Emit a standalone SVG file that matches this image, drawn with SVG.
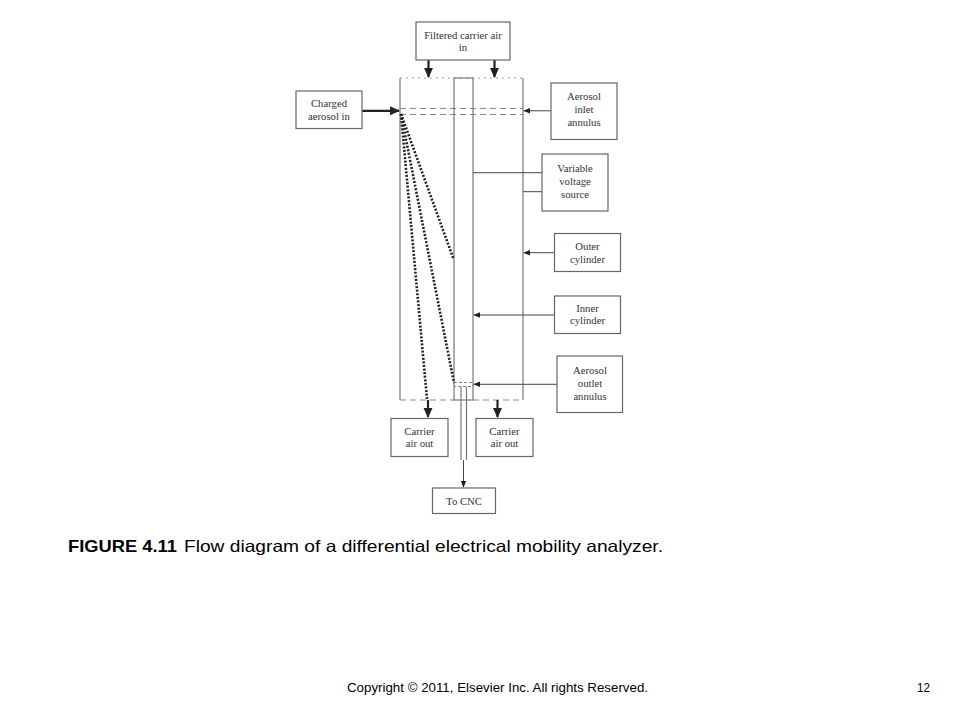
<svg xmlns="http://www.w3.org/2000/svg" width="960" height="720" viewBox="0 0 960 720">
<defs>
<style>
.box{fill:#fff;stroke:#666;stroke-width:1.2}
.lbl{font-family:"Liberation Serif",serif;font-size:10.7px;fill:#333;text-anchor:middle}
.ln{stroke:#777;stroke-width:1.2;fill:none}
.thin{stroke:#444;stroke-width:1;fill:none}
.thick{stroke:#222;stroke-width:2.2;fill:none}
.dash{stroke:#888;stroke-width:1;fill:none;stroke-dasharray:6 4}
.dot{stroke:#999;stroke-width:1;fill:none;stroke-dasharray:2 4}
.path{stroke:#222;stroke-width:2.6;fill:none;stroke-dasharray:2 1.6}
.sans{font-family:"Liberation Sans",Arial,sans-serif;fill:#000}
</style>
<marker id="ah" viewBox="0 0 10 10" refX="9" refY="5" markerWidth="7" markerHeight="7" orient="auto" markerUnits="userSpaceOnUse">
<path d="M0,1 L10,5 L0,9 z" fill="#222"/>
</marker>
<marker id="ahb" viewBox="0 0 10 10" refX="9" refY="5" markerWidth="4.5" markerHeight="4.5" orient="auto">
<path d="M0,0.5 L10,5 L0,9.5 z" fill="#222"/>
</marker>
</defs>
<rect width="960" height="720" fill="#fff"/>

<g id="analyzer">
<line class="ln" x1="400" y1="78" x2="400" y2="400"/>
<line class="ln" x1="523" y1="78" x2="523" y2="400"/>
<line class="dot" x1="400" y1="78" x2="523" y2="78"/>
<line class="dash" x1="400" y1="400" x2="454" y2="400"/>
<line class="dash" x1="473" y1="400" x2="523" y2="400"/>
<line class="dash" x1="400" y1="108.5" x2="523" y2="108.5"/>
<line class="dash" x1="400" y1="114.5" x2="523" y2="114.5"/>
<rect class="ln" x="454" y="78" width="19" height="322" fill="#fff"/>
<rect x="454" y="382.5" width="19" height="4" fill="none" stroke="#888" stroke-width="1" stroke-dasharray="3 2"/>
<line class="ln" x1="461" y1="386.5" x2="461" y2="460"/>
<line class="ln" x1="466.5" y1="386.5" x2="466.5" y2="460"/>
</g>

<g id="connectors">
<line class="thick" x1="428.5" y1="60" x2="428.5" y2="77" marker-end="url(#ahb)"/>
<line class="thick" x1="494.5" y1="60" x2="494.5" y2="77" marker-end="url(#ahb)"/>
<line class="thick" x1="362" y1="110.8" x2="399" y2="110.8" marker-end="url(#ahb)"/>
<line class="thin" x1="551" y1="110.8" x2="524" y2="110.8" marker-end="url(#ah)"/>
<line class="thin" x1="473" y1="172.7" x2="542" y2="172.7"/>
<line class="thin" x1="523" y1="191.7" x2="542" y2="191.7"/>
<line class="thin" x1="554" y1="252.7" x2="524" y2="252.7" marker-end="url(#ah)"/>
<line class="thin" x1="554" y1="315" x2="474" y2="315" marker-end="url(#ah)"/>
<line class="thin" x1="557" y1="384.3" x2="474" y2="384.3" marker-end="url(#ah)"/>
<line class="thick" x1="428" y1="400" x2="428" y2="417" marker-end="url(#ahb)"/>
<line class="thick" x1="497.5" y1="400" x2="497.5" y2="417" marker-end="url(#ahb)"/>
<line class="thin" x1="463.5" y1="460" x2="463.5" y2="487" marker-end="url(#ah)"/>
<line class="path" x1="401" y1="114" x2="427" y2="399"/>
<line class="path" x1="401" y1="114" x2="454" y2="383"/>
<line class="path" x1="401" y1="114" x2="453.5" y2="259"/>
</g>

<g id="filtered-air-in">
<rect class="box" x="416" y="22" width="94" height="38"/>
<text class="lbl" x="463" y="38.5">Filtered carrier air</text>
<text class="lbl" x="463" y="50.5">in</text>
</g>
<g id="charged-aerosol-in">
<rect class="box" x="296" y="91" width="66" height="37.5"/>
<text class="lbl" x="329" y="107">Charged</text>
<text class="lbl" x="329" y="119.5">aerosol in</text>
</g>
<g id="aerosol-inlet-annulus">
<rect class="box" x="551" y="83" width="66" height="56.5"/>
<text class="lbl" x="584" y="100">Aerosol</text>
<text class="lbl" x="584" y="113">inlet</text>
<text class="lbl" x="584" y="126">annulus</text>
</g>
<g id="variable-voltage-source">
<rect class="box" x="542" y="154" width="66" height="57"/>
<text class="lbl" x="575" y="172">Variable</text>
<text class="lbl" x="575" y="185">voltage</text>
<text class="lbl" x="575" y="198">source</text>
</g>
<g id="outer-cylinder">
<rect class="box" x="554.5" y="233.5" width="66" height="38"/>
<text class="lbl" x="587.5" y="249.5">Outer</text>
<text class="lbl" x="587.5" y="262.5">cylinder</text>
</g>
<g id="inner-cylinder">
<rect class="box" x="554.5" y="296" width="66" height="37.5"/>
<text class="lbl" x="587.5" y="311.5">Inner</text>
<text class="lbl" x="587.5" y="324">cylinder</text>
</g>
<g id="aerosol-outlet-annulus">
<rect class="box" x="557" y="356" width="65.5" height="56.5"/>
<text class="lbl" x="590" y="374">Aerosol</text>
<text class="lbl" x="590" y="387">outlet</text>
<text class="lbl" x="590" y="400">annulus</text>
</g>
<g id="carrier-air-out-left">
<rect class="box" x="391" y="418.5" width="57" height="38"/>
<text class="lbl" x="419.5" y="434.5">Carrier</text>
<text class="lbl" x="419.5" y="447">air out</text>
</g>
<g id="carrier-air-out-right">
<rect class="box" x="476" y="418.5" width="57" height="38"/>
<text class="lbl" x="504.5" y="434.5">Carrier</text>
<text class="lbl" x="504.5" y="447">air out</text>
</g>
<g id="to-cnc">
<rect class="box" x="432.5" y="488" width="63" height="25.5"/>
<text class="lbl" x="464" y="504.5">To CNC</text>
</g>

<text class="sans" x="68" y="551.5" font-size="16.5" font-weight="bold" textLength="109" lengthAdjust="spacingAndGlyphs">FIGURE 4.11</text>
<text class="sans" x="184" y="551.5" font-size="16.5" textLength="479" lengthAdjust="spacingAndGlyphs">Flow diagram of a differential electrical mobility analyzer.</text>
<text class="sans" x="347" y="692" font-size="13" textLength="301" lengthAdjust="spacingAndGlyphs">Copyright © 2011,  Elsevier Inc. All rights Reserved.</text>
<text class="sans" x="917" y="692" font-size="13" textLength="13" lengthAdjust="spacingAndGlyphs">12</text>
</svg>
